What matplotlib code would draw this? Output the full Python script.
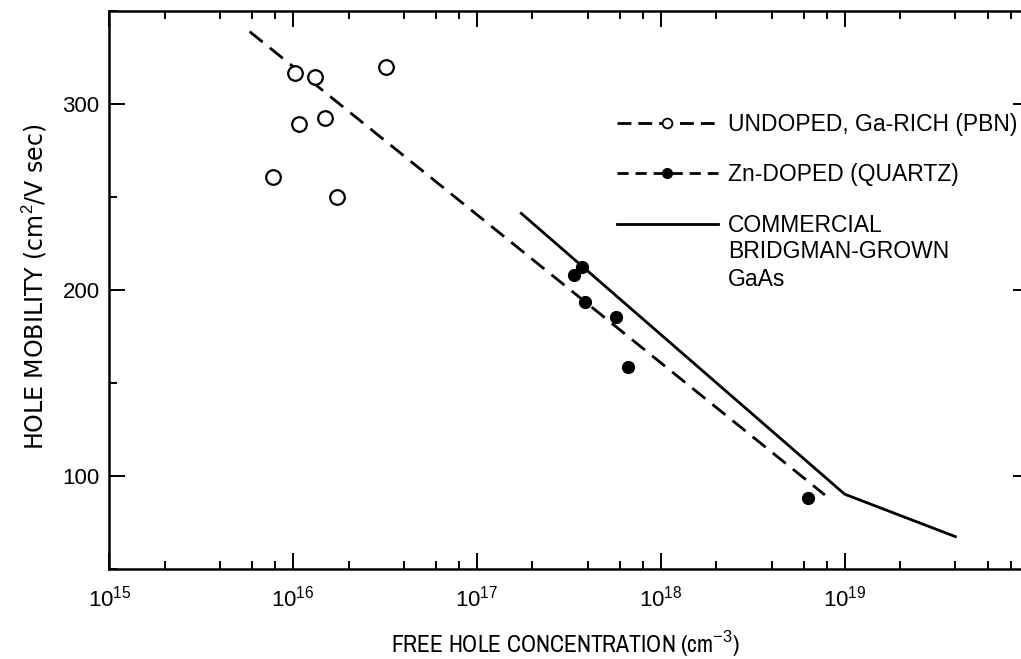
import matplotlib
matplotlib.use("Agg")
import matplotlib.pyplot as plt
from matplotlib import font_manager
from matplotlib.lines import Line2D
from matplotlib.ticker import FixedLocator, LogLocator, MultipleLocator, NullFormatter

plt.rcParams['font.family'] = ['Liberation Sans', 'DejaVu Sans']
plt.rcParams['mathtext.fontset'] = 'custom'
plt.rcParams['mathtext.rm'] = 'Liberation Sans'

# undoped, Ga-rich (PBN) samples - open circles
undoped_conc = [1.02e16, 1.31e16, 3.18e16, 1.07e16, 1.49e16, 7.75e15, 1.73e16]
undoped_mob = [316.5, 314.3, 319.7, 289.0, 292.3, 260.8, 250.2]

# Zn-doped (quartz) samples - filled circles
zn_conc = [3.74e17, 3.35e17, 3.89e17, 5.71e17, 6.61e17, 6.31e18]
zn_mob = [212.2, 208.1, 193.7, 185.7, 158.8, 88.0]

# dashed fit line through both sets
fit_conc = [5.8e15, 7.8e18]
fit_mob = [338.9, 89.8]

# commercial Bridgman-grown GaAs
comm_conc = [1.74e17, 1.0e19, 4.0e19]
comm_mob = [241.2, 90.2, 67.4]

xticks = [1e15, 1e16, 1e17, 1e18, 1e19]
xticklabels = [r'$\mathregular{10^{15}}$', r'$\mathregular{10^{16}}$', r'$\mathregular{10^{17}}$',
               r'$\mathregular{10^{18}}$', r'$\mathregular{10^{19}}$']
yticks = [100, 200, 300]

# narrow face for the x label if one is installed
names = {f.name for f in font_manager.fontManager.ttflist}
narrow = [n for n in sorted(names) if 'Narrow' in n or 'Condensed' in n]
xlab_family = narrow[:1] + ['Liberation Sans']
xlab_size = 17 if narrow else 15.5

fig = plt.figure(figsize=(10.21, 6.59), dpi=100)
ax = fig.add_axes([0.1071, 0.1366, 0.9003, 0.8467])

ax.plot(fit_conc, fit_mob, color='black', lw=2, dashes=(6, 3.3))
ax.plot(comm_conc, comm_mob, color='black', lw=2, solid_joinstyle='miter')
ax.plot(undoped_conc, undoped_mob, 'o', ms=10.5, mfc='white', mec='black', mew=1.6, ls='none')
ax.plot(zn_conc, zn_mob, 'o', ms=8.5, mfc='black', mec='black', ls='none')

ax.set_xscale('log')
ax.set_xlim(1e15, 1e20)
ax.set_ylim(50, 350)

ax.xaxis.set_major_locator(FixedLocator(xticks))
ax.set_xticklabels(xticklabels)
ax.xaxis.set_minor_locator(LogLocator(base=10, subs=(2, 4, 6, 8), numticks=20))
ax.xaxis.set_minor_formatter(NullFormatter())
ax.set_yticks(yticks)
ax.yaxis.set_minor_locator(MultipleLocator(50))

ax.tick_params(which='both', direction='in', top=True, right=True, colors='black')
ax.tick_params(which='major', length=11.5, width=1.4, labelsize=16, pad=7)
ax.tick_params(axis='x', which='major', pad=12)
ax.tick_params(which='minor', length=5.5, width=1.4)
for s in ax.spines.values():
    s.set_linewidth(1.8)

ax.set_ylabel(r'HOLE MOBILITY (cm$^{2}$/V sec)', fontsize=17, family=['DejaVu Sans'])
ax.yaxis.set_label_coords(-0.066, 0.505)
ax.set_xlabel(r'FREE HOLE CONCENTRATION (cm$^{-3}$)', fontsize=xlab_size, family=xlab_family)
ax.xaxis.set_label_coords(0.4957, -0.107)
ax.xaxis.label.set_va('top')

handles = [
    Line2D([], [], color='black', lw=2, dashes=(5, 2.5), marker='o', ms=7,
           mfc='white', mec='black', mew=1.3),
    Line2D([], [], color='black', lw=2, dashes=(4, 2.5), marker='o', ms=7,
           mfc='black', mec='black'),
    Line2D([], [], color='black', lw=2),
]
labels = ['UNDOPED, Ga-RICH (PBN)', 'Zn-DOPED (QUARTZ)', 'COMMERCIAL']
leg = ax.legend(handles, labels, loc='upper left', bbox_to_anchor=(617 / 1021, 1 - 113 / 659),
                bbox_transform=fig.transFigure, frameon=False, fontsize=16.5, numpoints=1,
                handlelength=4.4, handletextpad=0.44, borderpad=0, borderaxespad=0,
                labelspacing=1.2)
# rest of the third legend label, hung under "COMMERCIAL"
ax.annotate('BRIDGMAN-GROWN\nGaAs', xy=(0, 0), xycoords=leg.get_texts()[2],
            xytext=(0, -3), textcoords='offset pixels', ha='left', va='top',
            fontsize=16.5, linespacing=1.25, zorder=10)

fig.savefig('out.png', dpi=100)
